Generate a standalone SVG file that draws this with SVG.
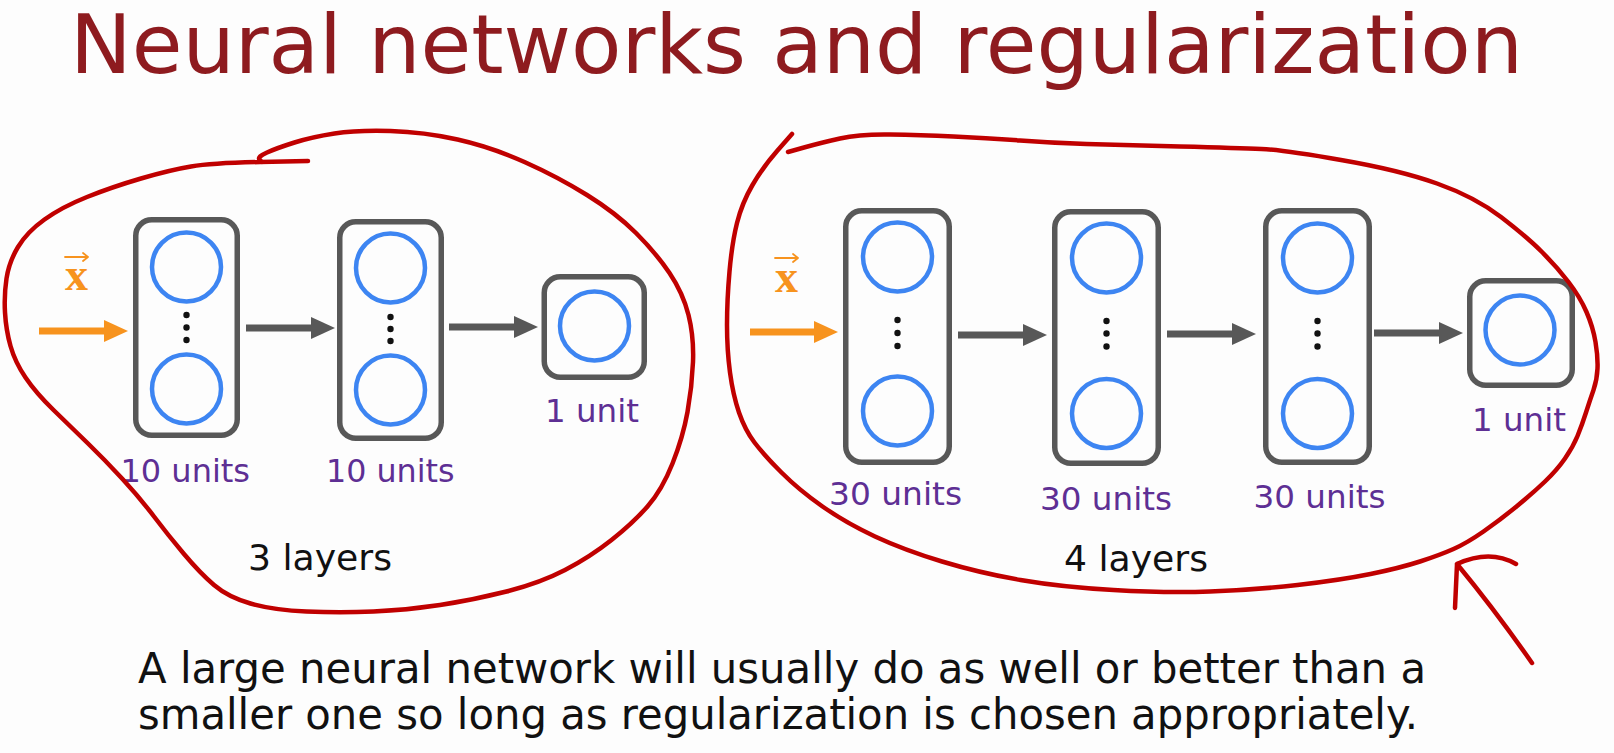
<svg xmlns="http://www.w3.org/2000/svg" width="1614" height="753" viewBox="0 0 1614 753">
<defs>
<style>
.box{fill:none;stroke:#585858;stroke-width:5.5}
.unit{fill:none;stroke:#3d85f2;stroke-width:4.5}
.dot{fill:#111}
.lbl{font-family:"DejaVu Sans",Verdana,sans-serif;font-size:32px;fill:#5e2f94}
.lay{font-family:"DejaVu Sans",Verdana,sans-serif;font-size:35px;fill:#111}
.xv{font-family:"Liberation Serif","Times New Roman",serif;font-weight:bold;font-size:46px;fill:#f7931e}
.acc{fill:none;stroke:#f7931e;stroke-width:1.8;stroke-linecap:round;stroke-linejoin:round}
.gray{stroke:#585858;stroke-width:7;fill:none}
.orange{stroke:#f7931e;stroke-width:7;fill:none}
.ink{fill:none;stroke:#c00000;stroke-width:4.5;stroke-linecap:round;stroke-linejoin:round}
</style>
<marker id="hg" viewBox="-2 -12 24 24" markerWidth="24" markerHeight="24" markerUnits="userSpaceOnUse" refX="0" refY="0" orient="auto">
<path d="M-2,-11 L22,0 L-2,11 Z" fill="#585858"/>
</marker>
<marker id="ho" viewBox="-2 -12 24 24" markerWidth="24" markerHeight="24" markerUnits="userSpaceOnUse" refX="0" refY="0" orient="auto">
<path d="M-2,-11 L22,0 L-2,11 Z" fill="#f7931e"/>
</marker>
</defs>
<rect width="1614" height="753" fill="#fdfdfd"/>

<g id="title">
<text x="70" y="73" font-family="'DejaVu Sans',Verdana,sans-serif" font-size="82" fill="#8e1b1f" textLength="1453" lengthAdjust="spacingAndGlyphs">Neural networks and regularization</text>
</g>

<!-- small network -->
<g id="small-input">
<path class="acc" d="M65,257 L88,257 M83,253 L88,257 L83,261"/>
<text class="xv" x="65" y="290">x</text>
</g>
<g id="small-layer1">
<rect class="box" x="135.75" y="219.75" width="101.5" height="215.5" rx="16"/>
<circle class="unit" cx="186.5" cy="267" r="34.5"/>
<circle class="unit" cx="186.5" cy="389" r="34.5"/>
<circle class="dot" cx="186.5" cy="315" r="3.2"/>
<circle class="dot" cx="186.5" cy="327.5" r="3.2"/>
<circle class="dot" cx="186.5" cy="340" r="3.2"/>
<text class="lbl" x="120.5" y="482" textLength="129.5" lengthAdjust="spacingAndGlyphs">10 units</text>
</g>
<g id="small-layer2">
<rect class="box" x="339.75" y="221.75" width="101.5" height="216.5" rx="16"/>
<circle class="unit" cx="390.5" cy="268" r="34.5"/>
<circle class="unit" cx="390.5" cy="390" r="34.5"/>
<circle class="dot" cx="390.5" cy="317" r="3.2"/>
<circle class="dot" cx="390.5" cy="329" r="3.2"/>
<circle class="dot" cx="390.5" cy="341" r="3.2"/>
<text class="lbl" x="326" y="482" textLength="128.5" lengthAdjust="spacingAndGlyphs">10 units</text>
</g>
<g id="small-output">
<rect class="box" x="544.25" y="276.75" width="100" height="100.5" rx="16"/>
<circle class="unit" cx="594.5" cy="326" r="34.5"/>
<text class="lbl" x="545" y="422" textLength="94" lengthAdjust="spacingAndGlyphs">1 unit</text>
</g>
<g id="small-caption">
<text class="lay" x="248" y="570" textLength="144" lengthAdjust="spacingAndGlyphs">3 layers</text>
</g>

<!-- large network -->
<g id="large-input">
<path class="acc" d="M775,258 L798,258 M793,254 L798,258 L793,262"/>
<text class="xv" x="775" y="292">x</text>
</g>
<g id="large-layer1">
<rect class="box" x="845.75" y="210.75" width="103.5" height="251.5" rx="16"/>
<circle class="unit" cx="897.5" cy="257" r="34.5"/>
<circle class="unit" cx="897.5" cy="411" r="34.5"/>
<circle class="dot" cx="897.5" cy="320" r="3.2"/>
<circle class="dot" cx="897.5" cy="333" r="3.2"/>
<circle class="dot" cx="897.5" cy="346" r="3.2"/>
<text class="lbl" x="829" y="505" textLength="133" lengthAdjust="spacingAndGlyphs">30 units</text>
</g>
<g id="large-layer2">
<rect class="box" x="1054.75" y="211.75" width="103.5" height="251.5" rx="16"/>
<circle class="unit" cx="1106.5" cy="258" r="34.5"/>
<circle class="unit" cx="1106.5" cy="413.5" r="34.5"/>
<circle class="dot" cx="1106.5" cy="321" r="3.2"/>
<circle class="dot" cx="1106.5" cy="333.5" r="3.2"/>
<circle class="dot" cx="1106.5" cy="346.5" r="3.2"/>
<text class="lbl" x="1040" y="510" textLength="132" lengthAdjust="spacingAndGlyphs">30 units</text>
</g>
<g id="large-layer3">
<rect class="box" x="1265.75" y="210.75" width="103.5" height="251.5" rx="16"/>
<circle class="unit" cx="1317.5" cy="258" r="34.5"/>
<circle class="unit" cx="1317.5" cy="413.5" r="34.5"/>
<circle class="dot" cx="1317.5" cy="321" r="3.2"/>
<circle class="dot" cx="1317.5" cy="333.5" r="3.2"/>
<circle class="dot" cx="1317.5" cy="346.5" r="3.2"/>
<text class="lbl" x="1253.5" y="508" textLength="132" lengthAdjust="spacingAndGlyphs">30 units</text>
</g>
<g id="large-output">
<rect class="box" x="1469.75" y="280.75" width="102.5" height="104.5" rx="16"/>
<circle class="unit" cx="1520" cy="330" r="34.5"/>
<text class="lbl" x="1472" y="431" textLength="94" lengthAdjust="spacingAndGlyphs">1 unit</text>
</g>
<g id="large-caption">
<text class="lay" x="1064" y="571" textLength="144" lengthAdjust="spacingAndGlyphs">4 layers</text>
</g>

<g id="connectors">
<line class="orange" x1="39" y1="331" x2="106" y2="331" marker-end="url(#ho)"/>
<line class="gray" x1="246" y1="328" x2="313" y2="328" marker-end="url(#hg)"/>
<line class="gray" x1="449" y1="327" x2="516" y2="327" marker-end="url(#hg)"/>
<line class="orange" x1="750" y1="332" x2="816" y2="332" marker-end="url(#ho)"/>
<line class="gray" x1="958" y1="335" x2="1025" y2="335" marker-end="url(#hg)"/>
<line class="gray" x1="1167" y1="334" x2="1234" y2="334" marker-end="url(#hg)"/>
<line class="gray" x1="1374" y1="333" x2="1441" y2="333" marker-end="url(#hg)"/>
</g>

<g id="annotations">
<path class="ink" d="M308,161 L260,162 Q212,163 191,166.5 Q170,170 141,178.5 Q112,187 87,197 Q62,207 44.5,219.5 Q27,232 18,247 Q9,262 6.5,278.5 Q4,295 5,312.5 Q6,330 10.5,346 Q15,362 25.5,377.5 Q36,393 53.5,410 Q71,427 88,443.5 Q105,460 122.5,479 Q140,498 154,516.5 Q168,535 184,554 Q200,573 214,585 Q228,597 250.5,603.5 Q273,610 306.5,611.5 Q340,613 373.5,611.5 Q407,610 440,605 Q473,600 506.5,591.5 Q540,583 565,570 Q590,557 611.5,540 Q633,523 647.5,506.5 Q662,490 672.5,463.5 Q683,437 687.5,412 Q692,387 693,362 Q694,337 688.5,315 Q683,293 669.5,273 Q656,253 636,233 Q616,213 587,195 Q558,177 524.5,162 Q491,147 457.5,139.5 Q424,132 390.5,131 Q357,130 334.5,133.5 Q312,137 294.5,142.5 Q277,148 267,152.5 Q257,157 259.5,159.5 L262,162"/>
<path class="ink" d="M792,134 L777.5,150.5 Q763,167 752.5,185 Q742,203 737,223 Q732,243 729.5,271.5 Q727,300 727,325 Q727,350 730,372.5 Q733,395 739,412.5 Q745,430 754.5,442.5 Q764,455 781.5,472.5 Q799,490 822.5,506.5 Q846,523 875,536.5 Q904,550 942,561.5 Q980,573 1020.5,580 Q1061,587 1113.5,590 Q1166,593 1210,591.5 Q1254,590 1297.5,585 Q1341,580 1370.5,574 Q1400,568 1420,561.5 Q1440,555 1453.5,549 Q1467,543 1483.5,531.5 Q1500,520 1516.5,506.5 Q1533,493 1545,481.5 Q1557,470 1565,458.5 Q1573,447 1577.5,436 Q1582,425 1586,412.5 Q1590,400 1593.5,390 Q1597,380 1597.5,368.5 Q1598,357 1595.5,342 Q1593,327 1586.5,312 Q1580,297 1568.5,282 Q1557,267 1542,252 Q1527,237 1501,217 Q1475,197 1437,183.5 Q1399,170 1341,160 Q1283,150 1261.5,149 Q1240,148 1180,146.5 Q1120,145 1086.5,144 Q1053,143 1020,140.5 Q987,138 953.5,136.5 Q920,135 890,134.5 Q860,134 840,138.5 Q820,143 804,147.5 L788,152"/>
<path class="ink" d="M1516,564 Q1490,549 1457,564 L1455,608 M1457,564 Q1495,610 1532,663"/>
</g>

<g id="caption">
<text x="138" y="683" font-family="'DejaVu Sans',Verdana,sans-serif" font-size="42" fill="#111" textLength="1288" lengthAdjust="spacingAndGlyphs">A large neural network will usually do as well or better than a</text>
<text x="138" y="729" font-family="'DejaVu Sans',Verdana,sans-serif" font-size="42" fill="#111" textLength="1280" lengthAdjust="spacingAndGlyphs">smaller one so long as regularization is chosen appropriately.</text>
</g>
</svg>
